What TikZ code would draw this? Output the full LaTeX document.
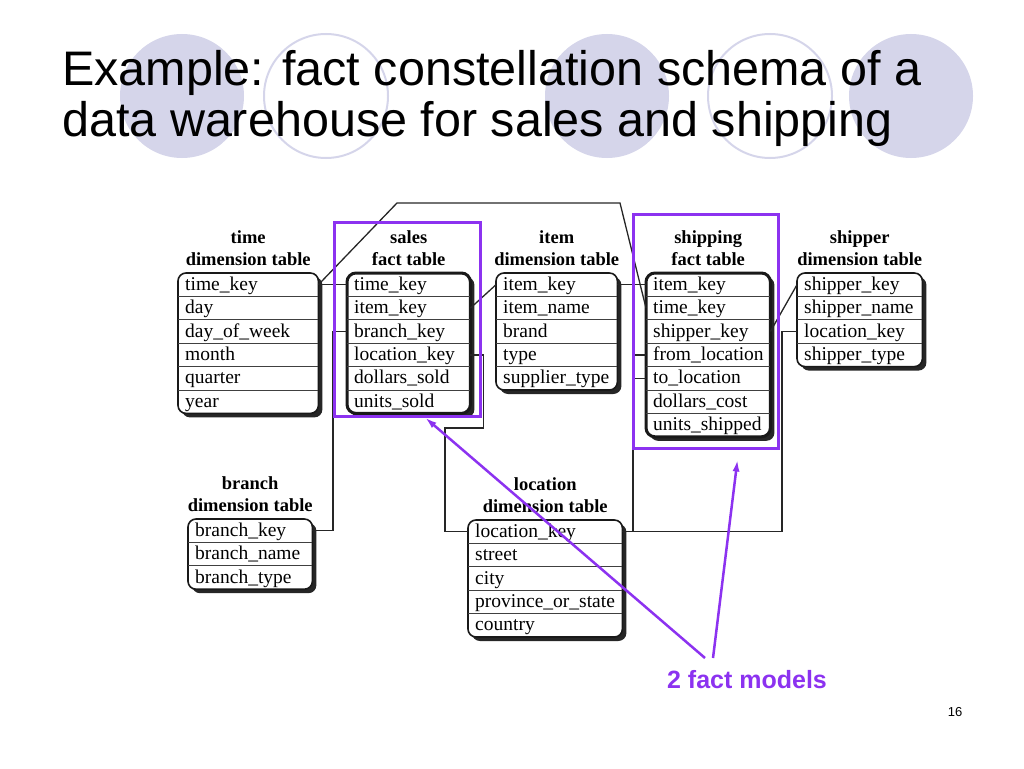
\documentclass[tikz,border=0pt]{standalone}
\usepackage{fontspec}
\setmainfont{Liberation Sans}
\newfontfamily\tabfont{Liberation Serif}
\usetikzlibrary{positioning,arrows.meta,backgrounds}
\definecolor{factpurple}{RGB}{140,50,240}
\definecolor{disc}{RGB}{213,213,234}

\begin{document}
\begin{tikzpicture}
  [x=1pt,y=-1pt,
   field/.style={text width=#1,align=left,inner xsep=7pt,inner ysep=0pt,minimum height=23pt,
     text height=14.5pt,text depth=3.5pt,font=\tabfont\fontsize{19.5}{22}\selectfont},
   tabtitle/.style={align=center,inner sep=0pt,font=\tabfont\bfseries\fontsize{18.5}{22}\selectfont},
   dimborder/.style={draw=black!90,line width=1.6pt,fill=white,rounded corners=8pt},
   factborder/.style={draw=black!90,line width=3pt,fill=white,rounded corners=9pt},
   tabshadow/.style={fill=black!85,rounded corners=8pt},
   rowline/.style={line width=0.9pt,black!75},
   link/.style={line width=1.3pt,black!85},
   modelbox/.style={draw=factpurple,line width=3pt,inner sep=0pt},
   pointer/.style={factpurple,line width=2.5pt,-{Latex[length=12pt,width=7pt]}}]
  \useasboundingbox (0,0) rectangle (1024,768);

  % title with the discs behind it
  \fill[disc] (182,96) circle[radius=62];
  \draw[disc,line width=2pt] (326,96) circle[radius=62];
  \fill[disc] (607,96) circle[radius=62];
  \draw[disc,line width=2pt] (770,96) circle[radius=62];
  \fill[disc] (911,96) circle[radius=62];
  \node[anchor=base west,inner sep=0pt,font=\fontsize{48.5}{54}\selectfont] (title1) at (62,85) {Example: fact constellation schema of a};
  \node[anchor=base west,inner sep=0pt,font=\fontsize{48.5}{54}\selectfont] (title2) at (62,136) {data warehouse for sales and shipping};

  % time
  \node[field=126,anchor=north west] (time1) at (178,273) {time\_key};
  \node[field=126,below=0pt of time1] (time2) {day};
  \node[field=126,below=0pt of time2] (time3) {day\_of\_week};
  \node[field=126,below=0pt of time3] (time4) {month};
  \node[field=126,below=0pt of time4] (time5) {quarter};
  \node[field=126,below=0pt of time5] (time6) {year};
  \node[tabtitle,above=7pt of time1] (timeT) {time\\dimension table};

  % sales
  \node[field=109,anchor=north west] (sales1) at (347,273) {time\_key};
  \node[field=109,below=0pt of sales1] (sales2) {item\_key};
  \node[field=109,below=0pt of sales2] (sales3) {branch\_key};
  \node[field=109,below=0pt of sales3] (sales4) {location\_key};
  \node[field=109,below=0pt of sales4] (sales5) {dollars\_sold};
  \node[field=109,below=0pt of sales5] (sales6) {units\_sold};
  \node[tabtitle,above=7pt of sales1] (salesT) {sales\\fact table};

  % item
  \node[field=107,anchor=north west] (item1) at (496,273) {item\_key};
  \node[field=107,below=0pt of item1] (item2) {item\_name};
  \node[field=107,below=0pt of item2] (item3) {brand};
  \node[field=107,below=0pt of item3] (item4) {type};
  \node[field=107,below=0pt of item4] (item5) {supplier\_type};
  \node[tabtitle,above=7pt of item1] (itemT) {item\\dimension table};

  % shipping
  \node[field=110,anchor=north west] (ship1) at (646,273) {item\_key};
  \node[field=110,below=0pt of ship1] (ship2) {time\_key};
  \node[field=110,below=0pt of ship2] (ship3) {shipper\_key};
  \node[field=110,below=0pt of ship3] (ship4) {from\_location};
  \node[field=110,below=0pt of ship4] (ship5) {to\_location};
  \node[field=110,below=0pt of ship5] (ship6) {dollars\_cost};
  \node[field=110,below=0pt of ship6] (ship7) {units\_shipped};
  \node[tabtitle,above=7pt of ship1] (shipT) {shipping\\fact table};

  % shipper
  \node[field=111,anchor=north west] (shipper1) at (797,273) {shipper\_key};
  \node[field=111,below=0pt of shipper1] (shipper2) {shipper\_name};
  \node[field=111,below=0pt of shipper2] (shipper3) {location\_key};
  \node[field=111,below=0pt of shipper3] (shipper4) {shipper\_type};
  \node[tabtitle,above=7pt of shipper1] (shipperT) {shipper\\dimension table};

  % branch
  \node[field=110,anchor=north west] (branch1) at (188,519) {branch\_key};
  \node[field=110,below=0pt of branch1] (branch2) {branch\_name};
  \node[field=110,below=0pt of branch2] (branch3) {branch\_type};
  \node[tabtitle,above=7pt of branch1] (branchT) {branch\\dimension table};

  % location
  \node[field=140,anchor=north west] (loc1) at (468,520) {location\_key};
  \node[field=140,below=0pt of loc1] (loc2) {street};
  \node[field=140,below=0pt of loc2] (loc3) {city};
  \node[field=140,below=0pt of loc3] (loc4) {province\_or\_state};
  \node[field=140,below=0pt of loc4] (loc5) {country};
  \node[tabtitle,above=7pt of loc1] (locT) {location\\dimension table};

  \begin{scope}[on background layer]
    \fill[tabshadow] ([shift={(4,4)}]time1.north west) rectangle ([shift={(4,4)}]time6.south east);
    \draw[dimborder] (time1.north west) rectangle (time6.south east);
    \fill[tabshadow] ([shift={(4,4)}]sales1.north west) rectangle ([shift={(4,4)}]sales6.south east);
    \draw[factborder] (sales1.north west) rectangle (sales6.south east);
    \fill[tabshadow] ([shift={(4,4)}]item1.north west) rectangle ([shift={(4,4)}]item5.south east);
    \draw[dimborder] (item1.north west) rectangle (item5.south east);
    \fill[tabshadow] ([shift={(4,4)}]ship1.north west) rectangle ([shift={(4,4)}]ship7.south east);
    \draw[factborder] (ship1.north west) rectangle (ship7.south east);
    \fill[tabshadow] ([shift={(4,4)}]shipper1.north west) rectangle ([shift={(4,4)}]shipper4.south east);
    \draw[dimborder] (shipper1.north west) rectangle (shipper4.south east);
    \fill[tabshadow] ([shift={(4,4)}]branch1.north west) rectangle ([shift={(4,4)}]branch3.south east);
    \draw[dimborder] (branch1.north west) rectangle (branch3.south east);
    \fill[tabshadow] ([shift={(4,4)}]loc1.north west) rectangle ([shift={(4,4)}]loc5.south east);
    \draw[dimborder] (loc1.north west) rectangle (loc5.south east);
  \end{scope}

  \foreach \r in {1,...,5} \draw[rowline] (time\r.south west) -- (time\r.south east);
  \foreach \r in {1,...,5} \draw[rowline] (sales\r.south west) -- (sales\r.south east);
  \foreach \r in {1,...,4} \draw[rowline] (item\r.south west) -- (item\r.south east);
  \foreach \r in {1,...,6} \draw[rowline] (ship\r.south west) -- (ship\r.south east);
  \foreach \r in {1,...,3} \draw[rowline] (shipper\r.south west) -- (shipper\r.south east);
  \foreach \r in {1,2} \draw[rowline] (branch\r.south west) -- (branch\r.south east);
  \foreach \r in {1,...,4} \draw[rowline] (loc\r.south west) -- (loc\r.south east);

  % keys
  \coordinate (bendA) at (397,203);
  \coordinate (bendB) at (620,203);
  \coordinate (bendC) at (445,428);
  \draw[link] (time1.east) -- (sales1.west);
  \draw[link] (time1.east) -- (bendA) -- (bendB) -- (ship2.west);
  \draw[link] (sales2.east) -- (item1.west);
  \draw[link] (sales3.west) -- ++(-14,0) |- (branch1.east);
  \draw[link] (sales4.east) -- ++(13,0) |- (bendC) |- (loc1.west);
  \draw[link] (item1.east) -- (ship1.west);
  \draw[link] (ship3.east) -- (shipper1.west);
  \draw[link] (ship4.west) -- ++(-13,0) |- (loc1.east);
  \draw[link] (ship5.west) -- ++(-13,0);
  \draw[link] (shipper3.west) -- ++(-15,0) |- (loc1.east);

  % the two fact models
  \node[modelbox,minimum width=146,minimum height=194] (salesBox) at (407,319) {};
  \node[modelbox,minimum width=145,minimum height=234] (shipBox) at (705.5,331) {};
  \node[font=\bfseries\fontsize{25}{30}\selectfont,text=factpurple,inner sep=2pt] (factLabel) at (747,680) {2 fact models};
  \coordinate (tailS) at (705,658);
  \coordinate (tailH) at (713,658);
  \draw[pointer] (tailS) -- ([xshift=18pt]salesBox.south);
  \draw[pointer] (tailH) -- ([xshift=32pt,yshift=-10pt]shipBox.south);

  \node[font=\fontsize{13}{15}\selectfont,inner sep=0pt] (pageNum) at (955,712) {16};
\end{tikzpicture}
\end{document}
